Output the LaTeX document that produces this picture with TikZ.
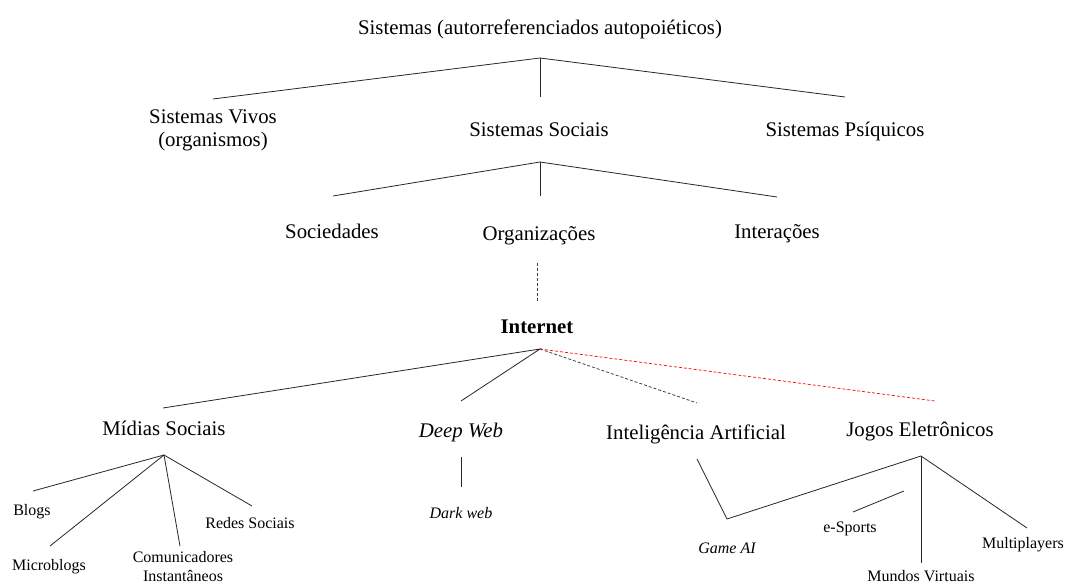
\documentclass[tikz,border=0pt]{standalone}
\usepackage{fontspec}
\setmainfont{Liberation Serif}
\begin{document}
\begin{tikzpicture}[x=1pt,y=-1pt,
  bigm/.style={font=\fontsize{20.8}{23}\selectfont, inner sep=0pt, align=center},
  big/.style={bigm, text height=14.5pt, text depth=0.5pt},
  smallm/.style={font=\fontsize{16}{19}\selectfont, inner sep=0pt, align=center},
  small/.style={smallm, text height=11pt, text depth=0.3pt},
  ln/.style={draw=black!85, line width=0.8pt},
  dln/.style={draw=black!75, line width=0.8pt, dash pattern=on 3pt off 2pt},
  rln/.style={draw=red, line width=0.7pt, dash pattern=on 3pt off 2pt}]
\useasboundingbox (0,0) rectangle (1066,585);
% top
\node[big] (sis) at (540,28) {Sistemas (autorreferenciados autopoiéticos)};
\coordinate (a1) at (540,58);
\coordinate (v1) at (213,99);
\coordinate (s1) at (540,97);
\coordinate (p1) at (845,97);
\draw[ln] (v1) -- (a1) -- (p1);
\draw[ln] (a1) -- (s1);
\node[bigm] (viv) at (213,130) {Sistemas Vivos\\(organismos)};
\node[big] (soc) at (539,130) {Sistemas Sociais};
\node[big] (psi) at (845,130) {Sistemas Psíquicos};
% second level
\coordinate (a2) at (540,162);
\coordinate (e2) at (333,196);
\coordinate (o2) at (540,196);
\coordinate (i2) at (777,197);
\draw[ln] (e2) -- (a2) -- (i2);
\draw[ln] (a2) -- (o2);
\node[big] (sdd) at (332,232) {Sociedades};
\node[big] (org) at (539,234) {Organizações};
\node[big] (int) at (777,232) {Interações};
\coordinate (d1) at (537,263);
\coordinate (d2) at (537,302);
\draw[dln] (d1) -- (d2);
\node[big,font=\fontsize{20.8}{23}\selectfont\bfseries] (net) at (537,327) {Internet};
% internet children
\coordinate (a3) at (540,349);
\coordinate (m3) at (163,408);
\coordinate (w3) at (461,401);
\coordinate (ia3) at (697,403);
\coordinate (j3) at (935,401);
\draw[ln] (m3) -- (a3) -- (w3);
\draw[dln] (a3) -- (ia3);
\draw[rln] (a3) -- (j3);
\node[big] (mid) at (164,428) {Mídias Sociais};
\node[big,font=\fontsize{20.8}{23}\selectfont\itshape] (dw) at (461,430) {Deep Web};
\node[big] (ia) at (696,432) {Inteligência Artificial};
\node[big] (jog) at (920,429) {Jogos Eletrônicos};
% midias sociais
\coordinate (am) at (164,455);
\coordinate (bl) at (33,491);
\coordinate (mb) at (50,546);
\coordinate (ci) at (180,546);
\coordinate (rs) at (252,506);
\draw[ln] (am) -- (bl);
\draw[ln] (am) -- (mb);
\draw[ln] (am) -- (ci);
\draw[ln] (am) -- (rs);
\node[small] (blo) at (32,510) {Blogs};
\node[small] (mic) at (49,565) {Microblogs};
\node[smallm] (com) at (183,567) {Comunicadores\\Instantâneos};
\node[small] (red) at (250,523) {Redes Sociais};
% deep web
\coordinate (dwt) at (461,457);
\coordinate (dwb) at (461,487);
\draw[ln] (dwt) -- (dwb);
\node[small,font=\fontsize{16}{19}\selectfont\itshape] (dk) at (461,513) {Dark web};
% IA and jogos
\coordinate (iat) at (697,459);
\coordinate (gv) at (727,519);
\coordinate (aj) at (921,456);
\coordinate (es1) at (853,512);
\coordinate (es2) at (904,491);
\coordinate (mvb) at (921,563);
\coordinate (mpl) at (1027,528);
\draw[ln] (iat) -- (gv) -- (aj);
\draw[ln] (es1) -- (es2);
\draw[ln] (aj) -- (mvb);
\draw[ln] (aj) -- (mpl);
\node[small] (esp) at (850,527) {e-Sports};
\node[small,font=\fontsize{16}{19}\selectfont\itshape] (gai) at (727,548) {Game AI};
\node[small] (mul) at (1023,543) {Multiplayers};
\node[small] (mun) at (921,576) {Mundos Virtuais};
\end{tikzpicture}
\end{document}
